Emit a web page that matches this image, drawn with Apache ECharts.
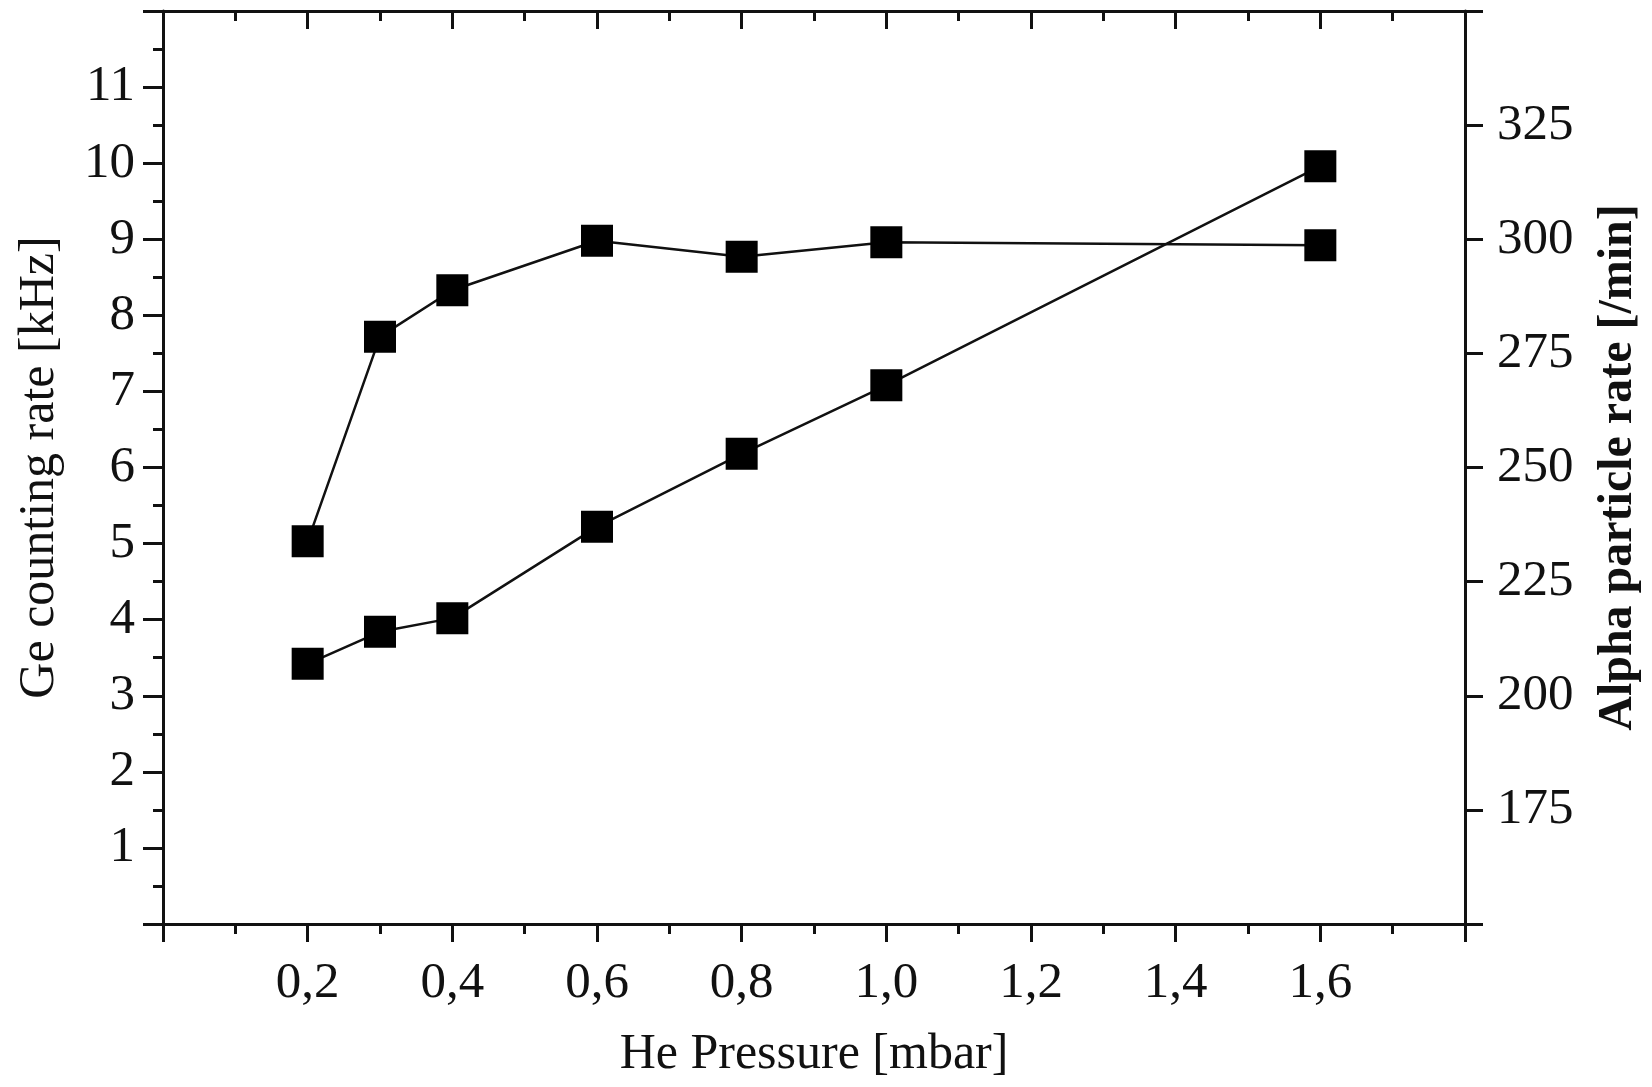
<!DOCTYPE html>
<html>
<head>
    <meta charset="UTF-8">
    <title>Ge counting rate / Alpha particle rate vs He pressure</title>
    <script src="https://cdn.jsdelivr.net/npm/echarts@6/dist/echarts.min.js"></script>
    <style>
        body { margin: 0; background: #fff; }
        #chart { width: 1652px; height: 1087px; }
    </style>
</head>
<body>
    <div id="chart"></div>
    <script>
        // data
        const pressure = [0.2, 0.3, 0.4, 0.6, 0.8, 1.0, 1.6];
        const geRate = [5.03, 7.72, 8.33, 8.98, 8.77, 8.96, 8.92];      // kHz, left axis
        const alphaRate = [207, 214, 217, 237, 253, 268, 316];           // /min, right axis

        const font = 'Liberation Serif';
        const ink = '#111';

        const comma = v => v.toFixed(1).replace('.', ',');
        const line = { onZero: false, lineStyle: { color: ink, width: 3 } };
        const tick = len => ({ show: true, length: len, lineStyle: { color: ink, width: 3 } });

        const chart = echarts.init(document.getElementById('chart'));

        chart.setOption({
            backgroundColor: '#fff',
            animation: false,
            grid: { left: 163, right: 187, top: 11, bottom: 163, outerBoundsMode: 'none' },
            xAxis: [{
                type: 'value', min: 0, max: 1.8, interval: 0.2, position: 'bottom',
                name: 'He Pressure [mbar]', nameLocation: 'middle', nameGap: 106,
                nameTextStyle: { fontFamily: font, fontSize: 50, color: ink },
                axisLine: line,
                axisTick: tick(18),
                minorTick: { show: true, splitNumber: 2, length: 10, lineStyle: { color: ink, width: 3 } },
                splitLine: { show: false },
                axisLabel: {
                    fontFamily: font, fontSize: 51, color: ink, margin: 34,
                    formatter: v => (v < 0.1 || v > 1.7) ? '' : comma(v)
                }
            }, {
                type: 'value', min: 0, max: 1.8, interval: 0.2, position: 'top',
                axisLine: line,
                axisTick: Object.assign(tick(18), { inside: true }),
                minorTick: { show: true, splitNumber: 2, length: 10, lineStyle: { color: ink, width: 3 } },
                splitLine: { show: false },
                axisLabel: { show: false }
            }],
            yAxis: [{
                type: 'value', min: 0, max: 12, interval: 1, position: 'left',
                name: 'Ge counting rate [kHz]', nameLocation: 'middle', nameGap: 98,
                nameTextStyle: { fontFamily: font, fontSize: 50, color: ink },
                axisLine: Object.assign({ show: true }, line),
                axisTick: tick(20),
                minorTick: { show: true, splitNumber: 2, length: 10, lineStyle: { color: ink, width: 3 } },
                splitLine: { show: false },
                axisLabel: {
                    fontFamily: font, fontSize: 51, color: ink, margin: 28,
                    formatter: v => (v === 0 || v === 12) ? '' : String(v)
                }
            }, {
                type: 'value', min: 150, max: 350, interval: 25, position: 'right',
                name: 'Alpha particle rate [/min]', nameLocation: 'middle', nameGap: 130,
                nameRotate: 90,
                nameTextStyle: { fontFamily: font, fontSize: 48, color: ink, fontWeight: 'bold' },
                axisLine: Object.assign({ show: true }, line),
                axisTick: tick(18),
                splitLine: { show: false },
                axisLabel: {
                    fontFamily: font, fontSize: 51, color: ink, margin: 32,
                    formatter: v => (v === 150 || v === 350) ? '' : String(v)
                }
            }],
            series: [{
                name: 'Ge counting rate',
                type: 'line',
                xAxisIndex: 0, yAxisIndex: 0,
                data: pressure.map((p, i) => [p, geRate[i]]),
                symbol: 'rect', symbolSize: 32,
                itemStyle: { color: '#000' },
                lineStyle: { color: '#111', width: 2.5 }
            }, {
                name: 'Alpha particle rate',
                type: 'line',
                xAxisIndex: 0, yAxisIndex: 1,
                data: pressure.map((p, i) => [p, alphaRate[i]]),
                symbol: 'rect', symbolSize: 32,
                itemStyle: { color: '#000' },
                lineStyle: { color: '#111', width: 2.5 }
            }]
        });
    </script>
</body>
</html>
